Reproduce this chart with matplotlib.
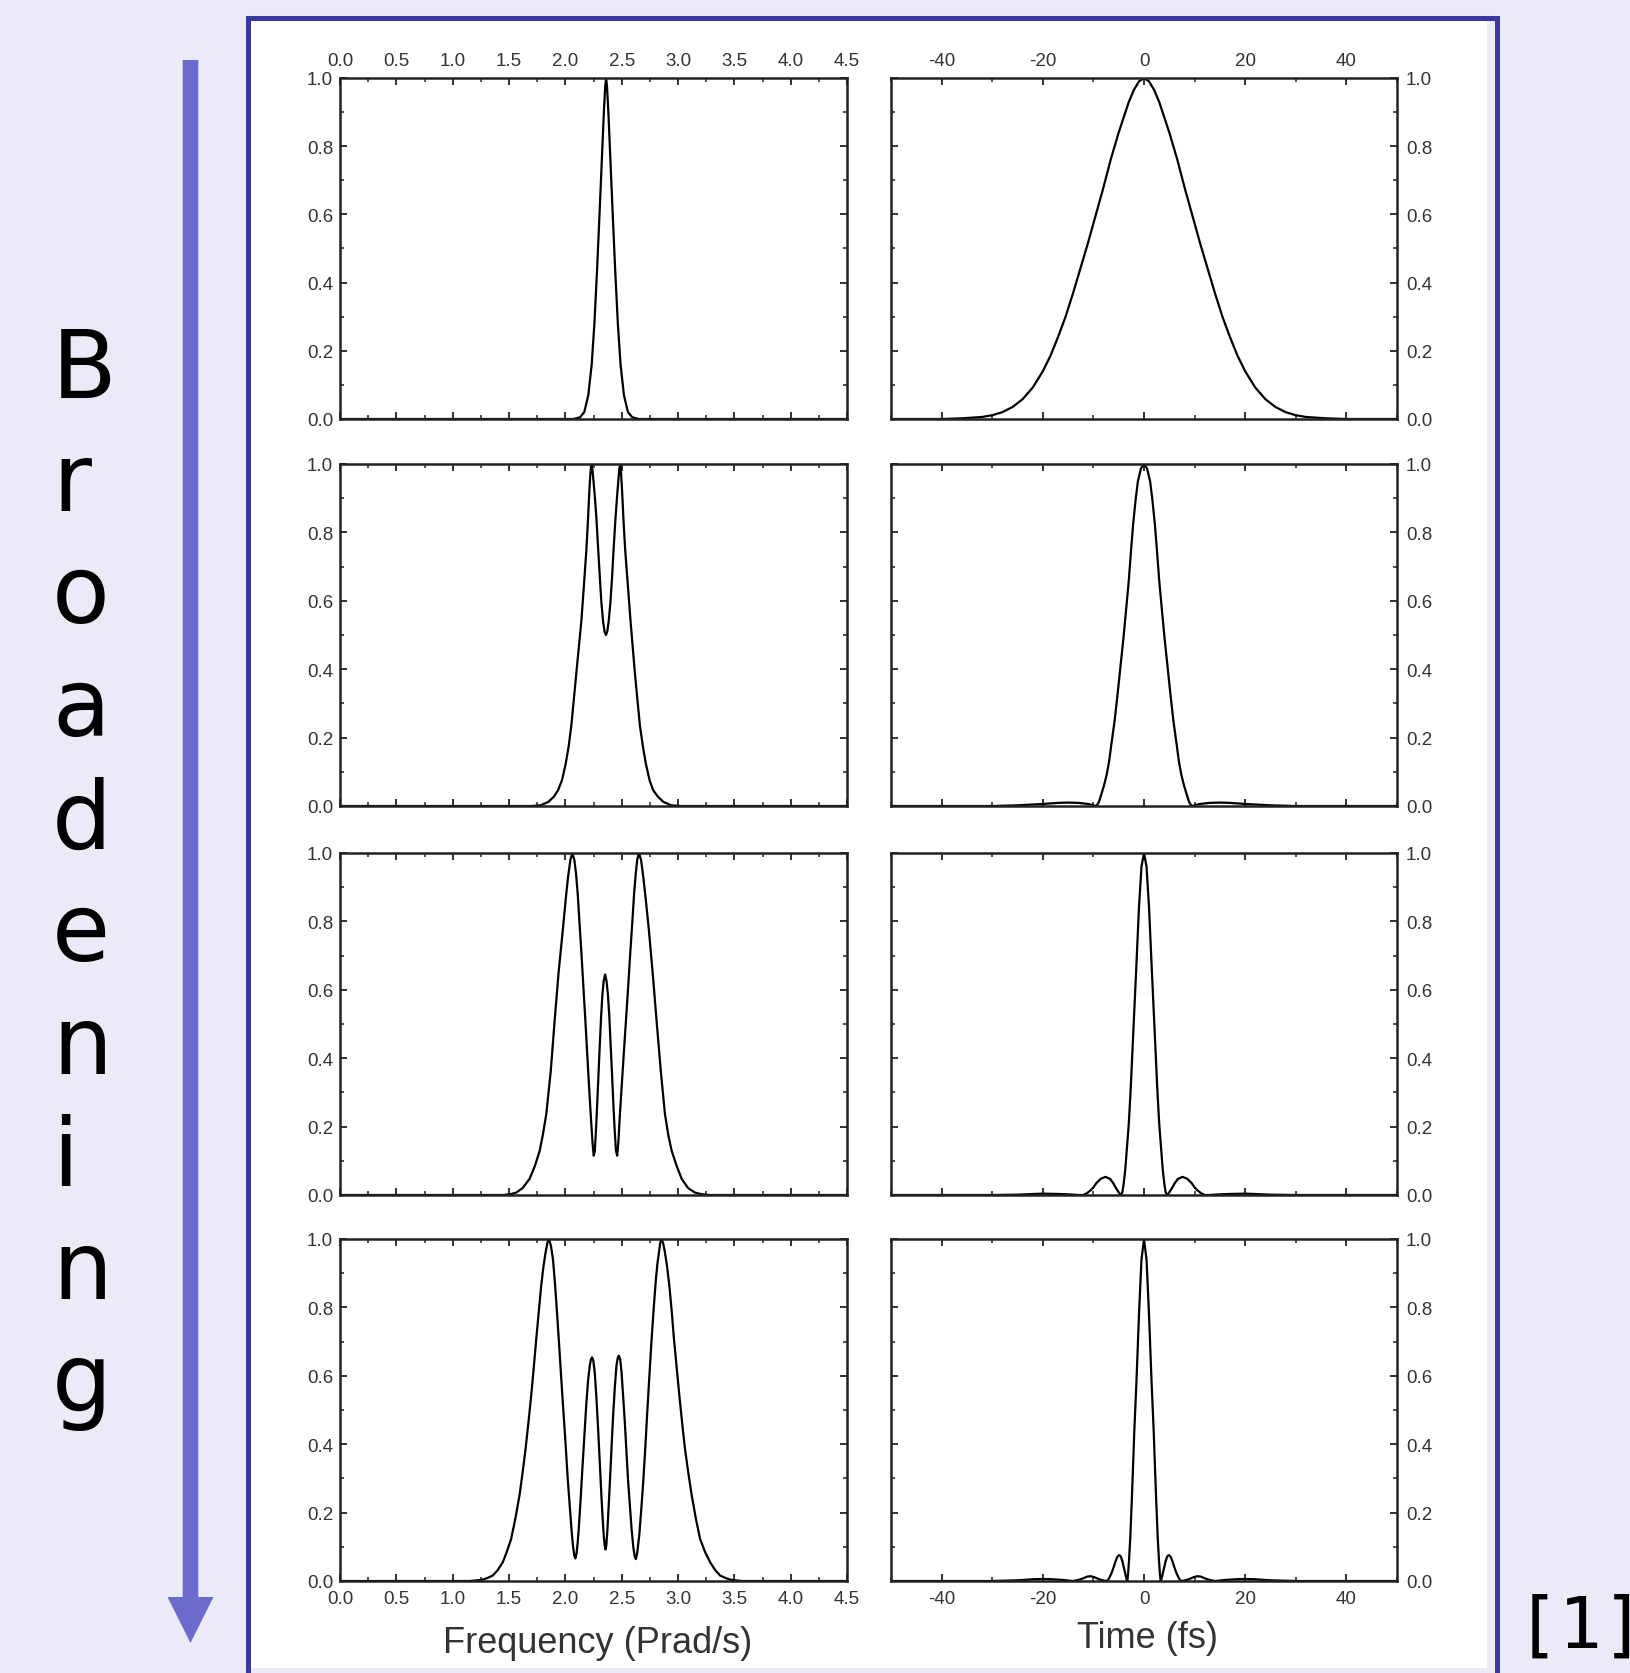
import numpy as np
import matplotlib.pyplot as plt
from matplotlib.patches import Rectangle
from matplotlib.ticker import MultipleLocator

plt.rcParams['font.family'] = ['Liberation Sans', 'DejaVu Sans']
plt.rcParams['axes.unicode_minus'] = False

# ---- data ----
# spectra (Frequency, Prad/s), one per stage of broadening
freq_x1 = [0.0, 2.072, 2.13, 2.168, 2.204, 2.234, 2.258, 2.282, 2.306, 2.324, 2.342,
           2.354, 2.362, 2.370, 2.382, 2.400, 2.418, 2.442, 2.466, 2.490, 2.520,
           2.556, 2.594, 2.652, 4.5]
freq_y1 = [0.0, 0.0, 0.005, 0.02, 0.07, 0.16, 0.28, 0.44, 0.62, 0.76, 0.90,
           0.975, 1.0, 0.975, 0.90, 0.76, 0.62, 0.44, 0.28, 0.16, 0.07,
           0.02, 0.005, 0.0, 0.0]

freq_x2 = [0.0, 1.70, 1.78, 1.85, 1.90, 1.935, 1.97, 2.003, 2.03, 2.053, 2.075,
           2.098, 2.12, 2.142, 2.165, 2.187, 2.20, 2.213, 2.222, 2.23, 2.24,
           2.25, 2.263, 2.276, 2.29, 2.306, 2.32, 2.335, 2.348, 2.36, 2.372,
           2.385, 2.40, 2.415, 2.43, 2.445, 2.458, 2.47, 2.479, 2.487, 2.495,
           2.504, 2.517, 2.531, 2.555, 2.579, 2.598, 2.617, 2.64, 2.662, 2.688,
           2.715, 2.748, 2.78, 2.82, 2.87, 2.94, 3.02, 4.5]
freq_y2 = [0.0, 0.0, 0.002, 0.012, 0.028, 0.046, 0.075, 0.123, 0.175, 0.235, 0.31,
           0.39, 0.465, 0.54, 0.645, 0.75, 0.83, 0.92, 0.97, 1.0, 0.985,
           0.95, 0.90, 0.84, 0.76, 0.67, 0.595, 0.54, 0.51, 0.50, 0.51,
           0.54, 0.595, 0.67, 0.76, 0.84, 0.90, 0.95, 0.985, 1.0, 0.97,
           0.92, 0.83, 0.75, 0.645, 0.54, 0.465, 0.39, 0.31, 0.235, 0.175,
           0.123, 0.075, 0.046, 0.028, 0.012, 0.002, 0.0, 0.0]

freq_x3 = [0.0, 1.45, 1.52, 1.564, 1.62, 1.682, 1.73, 1.772, 1.80, 1.831, 1.87,
           1.905, 1.94, 1.979, 2.005, 2.024, 2.045, 2.062, 2.08, 2.095, 2.11,
           2.125, 2.142, 2.16, 2.178, 2.193, 2.208, 2.22, 2.231, 2.242, 2.252,
           2.262, 2.272, 2.282, 2.294, 2.306, 2.318, 2.329, 2.34, 2.353, 2.366,
           2.378, 2.39, 2.402, 2.415, 2.427, 2.438, 2.449, 2.46, 2.47, 2.479,
           2.49, 2.503, 2.52, 2.538, 2.558, 2.577, 2.595, 2.61, 2.625, 2.638,
           2.653, 2.672, 2.692, 2.712, 2.74, 2.775, 2.81, 2.848, 2.884, 2.914,
           2.944, 2.988, 3.033, 3.09, 3.151, 3.20, 3.27, 4.5]
freq_y3 = [0.0, 0.0, 0.003, 0.007, 0.02, 0.047, 0.085, 0.129, 0.175, 0.237, 0.36,
           0.509, 0.65, 0.78, 0.87, 0.93, 0.98, 1.0, 0.98, 0.94, 0.88,
           0.80, 0.712, 0.61, 0.509, 0.42, 0.332, 0.265, 0.205, 0.15, 0.115,
           0.13, 0.19, 0.26, 0.35, 0.44, 0.525, 0.585, 0.625, 0.645, 0.625,
           0.585, 0.525, 0.44, 0.35, 0.26, 0.19, 0.13, 0.115, 0.15, 0.205,
           0.265, 0.332, 0.42, 0.509, 0.61, 0.712, 0.80, 0.88, 0.94, 0.98,
           1.0, 0.98, 0.93, 0.87, 0.78, 0.65, 0.509, 0.36, 0.237, 0.175,
           0.129, 0.085, 0.047, 0.02, 0.007, 0.003, 0.0, 0.0]

freq_x4 = [0.0, 1.15, 1.22, 1.267, 1.31, 1.356, 1.40, 1.445, 1.48, 1.519, 1.555,
           1.593, 1.62, 1.647, 1.672, 1.697, 1.72, 1.742, 1.765, 1.786, 1.806,
           1.825, 1.84, 1.855, 1.872, 1.89, 1.908, 1.926, 1.945, 1.964, 1.984,
           2.003, 2.02, 2.039, 2.055, 2.068, 2.079, 2.089, 2.099, 2.109, 2.119,
           2.135, 2.151, 2.17, 2.187, 2.203, 2.217, 2.227, 2.237, 2.248, 2.261,
           2.276, 2.291, 2.306, 2.32, 2.331, 2.341, 2.349, 2.356, 2.364, 2.374,
           2.388, 2.401, 2.413, 2.424, 2.44, 2.454, 2.465, 2.475, 2.487, 2.499,
           2.513, 2.528, 2.543, 2.558, 2.573, 2.588, 2.603, 2.615, 2.626, 2.637,
           2.656, 2.673, 2.691, 2.709, 2.727, 2.746, 2.766, 2.785, 2.804, 2.818,
           2.831, 2.843, 2.855, 2.87, 2.884, 2.903, 2.923, 2.944, 2.964, 2.988,
           3.012, 3.037, 3.062, 3.092, 3.122, 3.16, 3.196, 3.24, 3.285, 3.33,
           3.374, 3.42, 3.463, 3.51, 3.57, 4.5]
freq_y4 = [0.0, 0.0, 0.002, 0.004, 0.009, 0.016, 0.032, 0.055, 0.085, 0.123, 0.18,
           0.25, 0.315, 0.386, 0.462, 0.542, 0.625, 0.708, 0.79, 0.864, 0.92,
           0.961, 0.988, 1.0, 0.98, 0.942, 0.87, 0.786, 0.69, 0.591, 0.49,
           0.396, 0.305, 0.22, 0.15, 0.103, 0.075, 0.066, 0.08, 0.11, 0.152,
           0.235, 0.327, 0.43, 0.522, 0.59, 0.63, 0.648, 0.654, 0.645, 0.61,
           0.535, 0.444, 0.345, 0.25, 0.185, 0.133, 0.105, 0.092, 0.105, 0.152,
           0.24, 0.327, 0.41, 0.483, 0.57, 0.63, 0.652, 0.659, 0.648, 0.61,
           0.54, 0.464, 0.375, 0.288, 0.22, 0.152, 0.10, 0.073, 0.064, 0.08,
           0.133, 0.205, 0.288, 0.385, 0.493, 0.60, 0.708, 0.80, 0.883, 0.93,
           0.961, 0.99, 1.0, 0.985, 0.961, 0.92, 0.864, 0.79, 0.708, 0.625,
           0.542, 0.462, 0.386, 0.315, 0.25, 0.18, 0.123, 0.085, 0.055, 0.032,
           0.016, 0.009, 0.004, 0.002, 0.0, 0.0]

# pulses (Time, fs)
time_x1 = [-50, -40, -36, -32, -30, -28, -26, -24, -22, -20, -18.5, -17, -15.5, -14,
           -12.5, -11, -9.5, -8, -6.5, -5, -4, -3, -2, -1, 0,
           1, 2, 3, 4, 5, 6.5, 8, 9.5, 11, 12.5, 14, 15.5, 17, 18.5, 20,
           22, 24, 26, 28, 30, 32, 36, 40, 50]
time_y1 = [0, 0, 0.002, 0.006, 0.011, 0.02, 0.035, 0.058, 0.092, 0.14, 0.185, 0.24, 0.30, 0.37,
           0.445, 0.52, 0.60, 0.68, 0.765, 0.84, 0.885, 0.93, 0.965, 0.99, 1.0,
           0.99, 0.965, 0.93, 0.885, 0.84, 0.765, 0.68, 0.60, 0.52, 0.445, 0.37, 0.30, 0.24, 0.185, 0.14,
           0.092, 0.058, 0.035, 0.02, 0.011, 0.006, 0.002, 0, 0]

time_x2 = [-50, -30, -25, -20, -17, -15, -13, -11, -10, -9.4, -8.9, -8.4, -7.9, -7.4,
           -6.9, -6.45, -5.8, -5.2, -4.6, -4.0, -3.5, -3.0, -2.6, -2.17, -1.7, -1.2, -0.6,
           0,
           0.6, 1.2, 1.7, 2.17, 2.6, 3.0, 3.5, 4.0, 4.6, 5.2, 5.8, 6.45, 6.9,
           7.4, 7.9, 8.4, 8.9, 9.4, 10, 11, 13, 15, 17, 20, 25, 30, 50]
time_y2 = [0, 0, 0.002, 0.006, 0.009, 0.01, 0.009, 0.006, 0.002, 0.0, 0.012, 0.036, 0.06, 0.09,
           0.13, 0.18, 0.25, 0.33, 0.415, 0.50, 0.58, 0.66, 0.74, 0.82, 0.89, 0.95, 0.987,
           1.0,
           0.987, 0.95, 0.89, 0.82, 0.74, 0.66, 0.58, 0.50, 0.415, 0.33, 0.25, 0.18, 0.13,
           0.09, 0.06, 0.036, 0.012, 0.0, 0.002, 0.006, 0.009, 0.01, 0.009, 0.006, 0.002, 0, 0]

time_x3 = [-50, -30, -25, -20, -17, -15, -13, -12, -11.3, -10.7, -10, -9.4, -8.5, -7.6,
           -6.7, -6.1, -5.6, -5.1, -4.7, -4.47, -4.25, -4.0, -3.7, -3.36, -3.0, -2.63,
           -2.04, -1.51, -1.0, -0.5, 0,
           0.5, 1.0, 1.51, 2.04, 2.63, 3.0, 3.36, 3.7, 4.0, 4.25, 4.47, 4.7, 5.1, 5.6,
           6.1, 6.7, 7.6, 8.5, 9.4, 10, 10.7, 11.3, 12, 13, 15, 17, 20, 25, 30, 50]
time_y3 = [0, 0, 0.001, 0.004, 0.003, 0.002, 0.0, 0.0, 0.005, 0.012, 0.022, 0.035, 0.048, 0.053,
           0.047, 0.035, 0.022, 0.01, 0.002, 0.0, 0.01, 0.035, 0.075, 0.14, 0.21, 0.31,
           0.5, 0.67, 0.84, 0.96, 1.0,
           0.96, 0.84, 0.67, 0.5, 0.31, 0.21, 0.14, 0.075, 0.035, 0.01, 0.0, 0.002, 0.01, 0.022,
           0.035, 0.047, 0.053, 0.048, 0.035, 0.022, 0.012, 0.005, 0.0, 0.0, 0.002, 0.003, 0.004,
           0.001, 0, 0]

time_x4 = [-50, -30, -25, -22, -20, -18, -16, -14, -13, -12, -11.2, -10.5, -9.8, -9.0,
           -8.2, -7.3, -6.9, -6.45, -6.05, -5.66, -5.3, -4.93, -4.6, -4.28, -3.75, -3.5,
           -3.29, -3.15, -2.96, -2.7, -2.43, -2.2, -1.91, -1.5, -0.99, -0.5, 0,
           0.5, 0.99, 1.5, 1.91, 2.2, 2.43, 2.7, 2.96, 3.15, 3.29, 3.5, 3.75, 4.28,
           4.6, 4.93, 5.3, 5.66, 6.05, 6.45, 6.9, 7.3, 8.2, 9.0, 9.8, 10.5, 11.2, 12,
           13, 14, 16, 18, 20, 22, 25, 30, 50]
time_y4 = [0, 0, 0.002, 0.005, 0.006, 0.005, 0.003, 0.0, 0.003, 0.008, 0.013, 0.014, 0.011, 0.006,
           0.002, 0.0, 0.008, 0.022, 0.038, 0.056, 0.07, 0.076, 0.072, 0.058, 0.025, 0.008,
           0.0, 0.02, 0.06, 0.13, 0.23, 0.32, 0.44, 0.58, 0.78, 0.94, 1.0,
           0.94, 0.78, 0.58, 0.44, 0.32, 0.23, 0.13, 0.06, 0.02, 0.0, 0.008, 0.025, 0.058,
           0.072, 0.076, 0.07, 0.056, 0.038, 0.022, 0.008, 0.0, 0.002, 0.006, 0.011, 0.014, 0.013, 0.008,
           0.003, 0.0, 0.003, 0.005, 0.006, 0.005, 0.002, 0, 0]

freq_rows = [(freq_x1, freq_y1), (freq_x2, freq_y2), (freq_x3, freq_y3), (freq_x4, freq_y4)]
time_rows = [(time_x1, time_y1), (time_x2, time_y2), (time_x3, time_y3), (time_x4, time_y4)]

side_word = 'Broadening'
freq_label = 'Frequency (Prad/s)'
time_label = 'Time (fs)'
ref_mark = '[1]'

# ---- figure, everything laid out in pixels ----
W, H = 1630, 1674
fig = plt.figure(figsize=(W / 100, H / 100), dpi=100, facecolor='#ebebf7')

bg = fig.add_axes([0, 0, 1, 1])
bg.set_xlim(0, W)
bg.set_ylim(H, 0)
bg.axis('off')

# white slide panel + blue frame (open at the bottom)
bg.add_patch(Rectangle((250.7, 21), 1486.7 - 250.7, 1669 - 21,
                       facecolor='white', edgecolor='none'))
bg.plot([248, 248, 1496.7, 1496.7], [1700, 18.5, 18.5, 1700],
        color='#3838a0', lw=3.6, solid_joinstyle='miter')

# arrow + vertical word
bg.arrow(190.5, 61, 0, 1583, width=15.6, head_width=46, head_length=46,
         length_includes_head=True, color='#6b6bcc', lw=0)
for k, ch in enumerate(side_word):
    bg.text(52, 398 + 112.6 * k, ch, fontsize=68, family='DejaVu Sans',
            ha='left', va='baseline', color='black')

bg.text(1516, 1648, ref_mark, fontsize=52, family='DejaVu Sans Mono',
        ha='left', va='baseline', color='black')

bg.text(598, 1644, freq_label, fontsize=26, ha='center', va='center', color='#333333')
bg.text(1147.6, 1639, time_label, fontsize=26, ha='center', va='center', color='#333333')


def add_ax(x0, x1, y0, y1):
    return fig.add_axes([x0 / W, 1 - y1 / H, (x1 - x0) / W, (y1 - y0) / H])


rows_px = [(79, 420), (465, 807), (854, 1196), (1240, 1582)]
tick_col = '#333333'

for i, (y0, y1) in enumerate(rows_px):
    axL = add_ax(340, 847, y0, y1)
    axR = add_ax(891, 1397, y0, y1)

    fx, fy = freq_rows[i]
    tx, ty = time_rows[i]
    axL.plot(fx, fy, color='black', lw=1.6)
    axR.plot(tx, ty, color='black', lw=1.6)

    axL.set_xlim(0, 4.5)
    axL.xaxis.set_major_locator(MultipleLocator(0.5))
    axL.xaxis.set_minor_locator(MultipleLocator(0.25))
    axR.set_xlim(-50, 50)
    axR.xaxis.set_major_locator(MultipleLocator(20))
    axR.xaxis.set_minor_locator(MultipleLocator(10))

    for ax in (axL, axR):
        ax.set_ylim(0, 1)
        ax.yaxis.set_major_locator(MultipleLocator(0.2))
        ax.yaxis.set_minor_locator(MultipleLocator(0.1))
        for s in ax.spines.values():
            s.set_linewidth(1.8)
            s.set_color('#222222')
        ax.tick_params(which='both', direction='in', top=True, right=True,
                       bottom=True, left=True, color='#222222',
                       labeltop=(i == 0), labelbottom=(i == 3),
                       labelsize=13.5, labelcolor=tick_col)
        ax.tick_params(which='major', length=5, width=1.3)
        ax.tick_params(which='minor', length=3, width=1.1)
        ax.tick_params(axis='x', pad=6.5)

    axL.tick_params(axis='y', labelleft=True, labelright=False, pad=5)
    axR.tick_params(axis='y', labelleft=False, labelright=True, pad=6.5)

fig.savefig('out.png', dpi=100, facecolor=fig.get_facecolor())
